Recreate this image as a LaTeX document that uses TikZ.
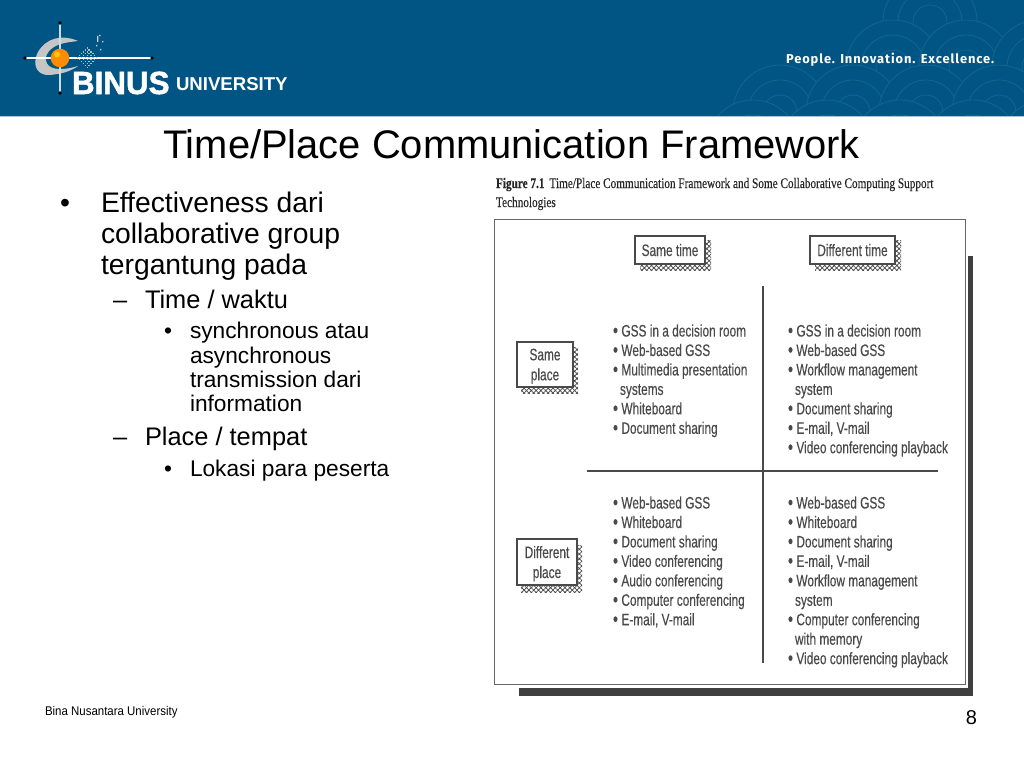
\documentclass[tikz,border=0pt]{standalone}
\usepackage{fontspec}
\usetikzlibrary{patterns.meta}
\setmainfont{Liberation Sans}
\newfontfamily\figfont[FakeStretch=0.715,FakeBold=0.3]{Liberation Sans}
\newfontfamily\capfont[FakeStretch=0.77,FakeBold=0.2]{Liberation Serif}
\newfontfamily\footfont[FakeStretch=0.91]{Liberation Sans}
\newfontfamily\tagfont[LetterSpace=7]{Fira Sans}
\newfontfamily\brandfont[FakeBold=1.6,FakeStretch=0.98]{Liberation Sans Bold}
\definecolor{hdr}{HTML}{005585}
\definecolor{wave}{HTML}{16658F}
\definecolor{figink}{HTML}{4A4A4A}
\definecolor{pin}{HTML}{A8305F}
\newcommand{\fs}[2]{\fontsize{#1pt}{#2pt}\selectfont}
\newcommand{\bu}{\makebox[8.4pt][l]{\fs{20}{19.45}\raisebox{-0.6pt}{•}}}
\tikzset{
  every node/.style={inner sep=0pt,outer sep=0pt},
  lone/.style={anchor=base west,text=black},
  lvla/.style={lone,font=\fs{28.3}{32}},
  lvlb/.style={lone,font=\fs{25.4}{28}},
  lvlc/.style={lone,font=\fs{22.7}{24}},
  cell/.style={anchor=north west,align=left,text=figink,font=\figfont\fs{16.6}{19.45}},
  tagbox/.style={anchor=north west,draw=figink,line width=1.2pt,fill=white,align=center,text=figink,font=\figfont\fs{16.6}{20},text depth=0pt},
  hatch/.style={pattern={Hatch[distance=3.4pt,angle=45,line width=0.75pt]},pattern color=figink},
  rule/.style={draw=figink,line width=1.5pt},
  arcw/.style={draw=wave,line width=0.8pt}
}
\newcommand{\scale}[2]{%
  \fill[hdr] (#1,#2) circle (47pt);
  \foreach \r in {47,32,17}{\draw[arcw] (#1,#2) circle (\r pt);}
}
\begin{document}
\begin{tikzpicture}[x=1pt,y=-1pt]
\useasboundingbox (0,0) rectangle (1024,768);
\fill[white] (0,0) rectangle (1024,768);
% header band
\fill[hdr] (0,0) rectangle (1024,116);
\begin{scope}
\clip (0,0) rectangle (1024,115);
\foreach \cx in {930}{\scale{\cx}{22}}
\foreach \cx in {893,966,1039}{\scale{\cx}{67}}
\foreach \cx in {780,853,926,999}{\scale{\cx}{112}}
\foreach \cx in {753,827,900,973,1046}{\scale{\cx}{147}}
\end{scope}
\fill[hdr!35!white] (0,115.5) rectangle (1024,117);
% logo
\fill[gray!45] (78,41) .. controls (62,34) and (46,38) .. (38,52) .. controls (31,66) and (38,76) .. (50,75)
  .. controls (60,74) and (70,72) .. (78,66) .. controls (68,69) and (56,71) .. (49,66)
  .. controls (43,60) and (46,52) .. (54,47) .. controls (60,43) and (70,42) .. (78,41) -- cycle;
\draw[white,line width=1.1pt] (25,58) -- (152,58);
\draw[white!80!hdr,line width=1.1pt] (60,23) -- (60,93);
\fill[pin] (25,58) circle (1.8pt) (152,58) circle (1.8pt) (60,23) circle (1.8pt) (60,93) circle (1.8pt);
\fill[orange!90!yellow] (60,58) circle (9.3pt);
\fill[yellow!60!orange] (57,54.5) circle (3pt);
\foreach \i in {0,...,5}{\foreach \j in {0,...,5}{
  \fill[gray!55!white] ({77+1.9*\i+1.9*\j},{57+1.9*\j-1.9*\i}) rectangle +(1.3,1.3);}}
\fill[gray!40!white] (97,36) rectangle +(1.3,6) (99,35) rectangle +(1.5,1.2) (102,41) rectangle +(1.4,1.4) (100,49) rectangle +(1.4,1.4) (96,45) rectangle +(1.4,1.4);
\node[anchor=base west,text=white,font=\brandfont\fs{32}{32}] (brand) at (72,94) {BINUS};
\node[anchor=base west,text=white,font=\bfseries\fs{18.6}{20}] (univ) at (176,90) {UNIVERSITY};
\node[anchor=base west,text=white,font=\tagfont\bfseries\fs{12.9}{14}] (tagline) at (786,63.5) {People. Innovation. Excellence.};
% title
\node[anchor=base,font=\fs{39.9}{42}] (title) at (511.5,158) {Time/Place Communication Framework};
% left text
\node[lvla] (b1) at (60,212) {•};
\node[lvla] (t1) at (101,212) {Effectiveness dari};
\node[lvla] (t2) at (101,243) {collaborative group};
\node[lvla] (t3) at (101,274) {tergantung pada};
\node[lvlb] (d1) at (113,308) {–};
\node[lvlb] (t4) at (145,308) {Time / waktu};
\node[lvlc] (b2) at (164,338) {•};
\node[lvlc] (t5) at (190,338) {synchronous atau};
\node[lvlc] (t6) at (190,363) {asynchronous};
\node[lvlc] (t7) at (190,387) {transmission dari};
\node[lvlc] (t8) at (190,411.5) {information};
\node[lvlb] (d2) at (113,445) {–};
\node[lvlb] (t9) at (145,445) {Place / tempat};
\node[lvlc] (b3) at (164,476) {•};
\node[lvlc] (t10) at (190,476) {Lokasi para peserta};
% caption
\node[anchor=base west,font=\capfont\fs{14.6}{17},text=black!85] (cap1) at (496,188) {\textbf{Figure 7.1}\hspace{5pt}Time/Place Communication Framework and Some Collaborative Computing Support};
\node[anchor=base west,font=\capfont\fs{14.6}{17},text=black!85] (cap2) at (496,207) {Technologies};
% figure frame and shadow
\fill[figink!85!black] (519,688) rectangle (973,696);
\fill[figink!85!black] (968,256) rectangle (973,696);
\draw[draw=gray!80!black,line width=1pt,fill=white] (494,219) rectangle (965,684);
% axes
\coordinate (vtop) at (763,286);
\coordinate (vbot) at (763,663);
\coordinate (hl) at (587,471);
\coordinate (hr) at (938,471);
\draw[rule] (vtop) -- (vbot);
\draw[rule] (hl) -- (hr);
% tag boxes
\fill[hatch] (640,240) rectangle (711,270);
\node[tagbox,minimum width=70pt,minimum height=28pt] (st) at (635,236) {Same time};
\fill[hatch] (815,240) rectangle (901,270);
\node[tagbox,minimum width=85pt,minimum height=28pt] (dt) at (810,236) {Different time};
\fill[hatch] (521,347) rectangle (578,393);
\node[tagbox,minimum width=56pt,minimum height=45pt] (sp) at (517,342) {Same\\place};
\fill[hatch] (521,545) rectangle (582,592);
\node[tagbox,minimum width=60pt,minimum height=46pt] (dp) at (517,539) {Different\\place};
% cells
\node[cell] (c1) at (613,324.5) {\bu GSS in a decision room\\\bu Web-based GSS\\\bu Multimedia presentation\\\hspace{7pt}systems\\\bu Whiteboard\\\bu Document sharing};
\node[cell] (c2) at (788,324.5) {\bu GSS in a decision room\\\bu Web-based GSS\\\bu Workflow management\\\hspace{7pt}system\\\bu Document sharing\\\bu E-mail, V-mail\\\bu Video conferencing playback};
\node[cell] (c3) at (613,496.5) {\bu Web-based GSS\\\bu Whiteboard\\\bu Document sharing\\\bu Video conferencing\\\bu Audio conferencing\\\bu Computer conferencing\\\bu E-mail, V-mail};
\node[cell] (c4) at (788,496.5) {\bu Web-based GSS\\\bu Whiteboard\\\bu Document sharing\\\bu E-mail, V-mail\\\bu Workflow management\\\hspace{7pt}system\\\bu Computer conferencing\\\hspace{7pt}with memory\\\bu Video conferencing playback};
% footer
\node[anchor=base west,font=\footfont\fs{12.6}{14}] (foot) at (45,715) {Bina Nusantara University};
\node[anchor=base east,font=\fs{20}{22}] (pg) at (977,724) {8};
\end{tikzpicture}
\end{document}
